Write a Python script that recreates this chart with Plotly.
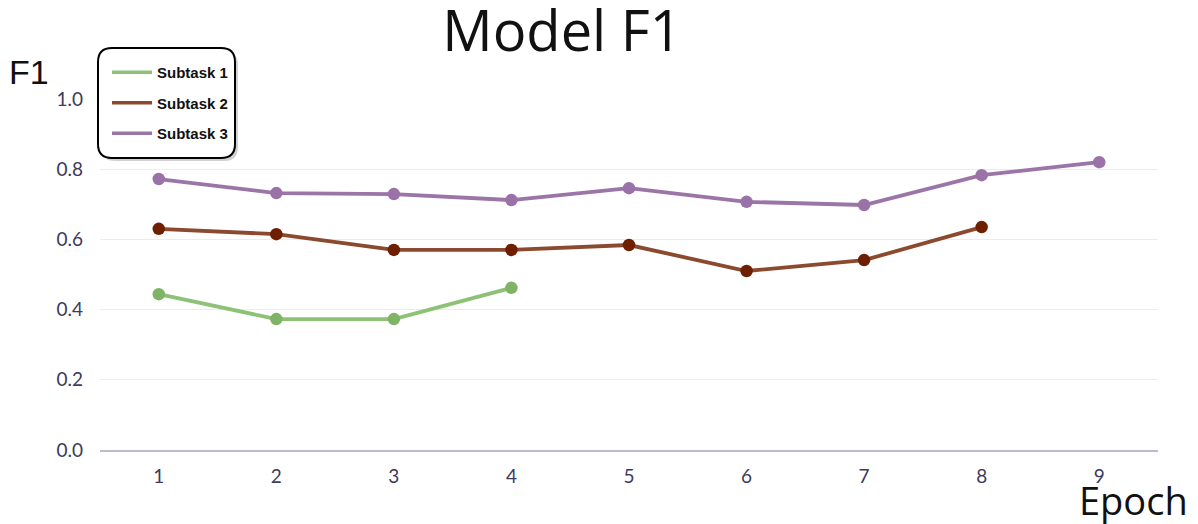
import plotly.graph_objects as go

epochs = [1, 2, 3, 4, 5, 6, 7, 8, 9]
subtask1 = [0.444, 0.373, 0.373, 0.462]
subtask2 = [0.630, 0.615, 0.570, 0.570, 0.584, 0.510, 0.541, 0.635]
subtask3 = [0.772, 0.732, 0.729, 0.712, 0.746, 0.707, 0.698, 0.783, 0.820]
names = ["Subtask 1", "Subtask 2", "Subtask 3"]
series = [subtask1, subtask2, subtask3]
line_colors = ["#8cc176", "#8b4a2e", "#9b74a8"]
marker_colors = ["#7fb466", "#6e1f00", "#9a72a8"]
y_ticks = [0.0, 0.2, 0.4, 0.6, 0.8, 1.0]

OFF = 8  # page body margin
W, H = 1198 - OFF, 524 - OFF
L, T = 100 - OFF, 99 - OFF
R = W - (1158 - OFF)
B = H - (450 - OFF)
pw, ph = W - L - R, H - T - B

def px(x):
    # reference-page pixel -> paper x
    return (x - OFF - L) / pw

def py(y):
    return (H - B - (y - OFF)) / ph

fig = go.Figure()
for i, (n, s) in enumerate(zip(names, series)):
    fig.add_trace(go.Scatter(
        x=epochs[:len(s)], y=s, mode="lines+markers", name=n, showlegend=False,
        line=dict(color=line_colors[i], width=3.8),
        marker=dict(color=marker_colors[i], size=12.5),
    ))
for i, n in enumerate(names):
    fig.add_trace(go.Scatter(
        x=[None], y=[None], mode="lines", name=n, legendgroup=n,
        line=dict(color=line_colors[i], width=3.5),
    ))

def rounded(x0, y0, x1, y1, r):
    X0, X1 = px(x0), px(x1)
    rx = r / pw
    ry = r / ph
    Yt, Yb = py(y0), py(y1)
    return (f"M {X0+rx},{Yt} L {X1-rx},{Yt} Q {X1},{Yt} {X1},{Yt-ry} "
            f"L {X1},{Yb+ry} Q {X1},{Yb} {X1-rx},{Yb} L {X0+rx},{Yb} "
            f"Q {X0},{Yb} {X0},{Yb+ry} L {X0},{Yt-ry} Q {X0},{Yt} {X0+rx},{Yt} Z")

fig.add_shape(type="path", xref="paper", yref="paper",
              path=rounded(101, 51, 238, 161, 14),
              line=dict(color="rgba(0,0,0,0)", width=0),
              fillcolor="rgba(0,0,0,0.18)", layer="above")
fig.add_shape(type="path", xref="paper", yref="paper",
              path=rounded(98, 48, 235, 158, 14),
              line=dict(color="#000000", width=2),
              fillcolor="#ffffff", layer="above")

fig.update_layout(
    width=W, height=H,
    margin=dict(l=L, r=R, t=T, b=B),
    paper_bgcolor="white", plot_bgcolor="white",
    title=dict(text="Model F1", x=(562 - OFF) / W, xanchor="center", xref="container",
               y=1 - (31 - OFF) / H, yanchor="middle",
               font=dict(family="Open Sans", size=56, color="#111111")),
    showlegend=True,
    legend=dict(x=px(107), y=py(56), xanchor="left", yanchor="top",
                bgcolor="rgba(0,0,0,0)", borderwidth=0,
                traceorder="grouped", tracegroupgap=8, itemwidth=40,
                font=dict(family="Liberation Sans", size=15, color="#111111",
                          weight="bold")),
    xaxis=dict(range=[0.5, 9.5], tickmode="array", tickvals=epochs,
               showgrid=False, zeroline=False, showline=True,
               linecolor="#bdb9cf", linewidth=1.5, ticks="",
               ticklabelstandoff=8,
               tickfont=dict(family="Lato", size=19, color="#3d3a5c")),
    yaxis=dict(range=[0, 1.0], tickmode="array", tickvals=y_ticks,
               ticktext=[f"{v:.1f}" for v in y_ticks],
               showgrid=True, gridcolor="#ececec", gridwidth=1,
               zeroline=False, showline=False, ticks="",
               ticklabelstandoff=16,
               tickfont=dict(family="Lato", size=19, color="#3d3a5c")),
    annotations=[
        dict(text="F1", xref="paper", yref="paper", x=px(7), y=py(72),
             xanchor="left", yanchor="middle", showarrow=False,
             font=dict(family="Liberation Sans", size=34, color="#111111")),
        dict(text="Epoch", xref="paper", yref="paper", x=px(1190), y=py(500),
             xanchor="right", yanchor="middle", showarrow=False,
             font=dict(family="Open Sans", size=38, color="#111111")),
    ],
)

fig.write_html("out.html")
